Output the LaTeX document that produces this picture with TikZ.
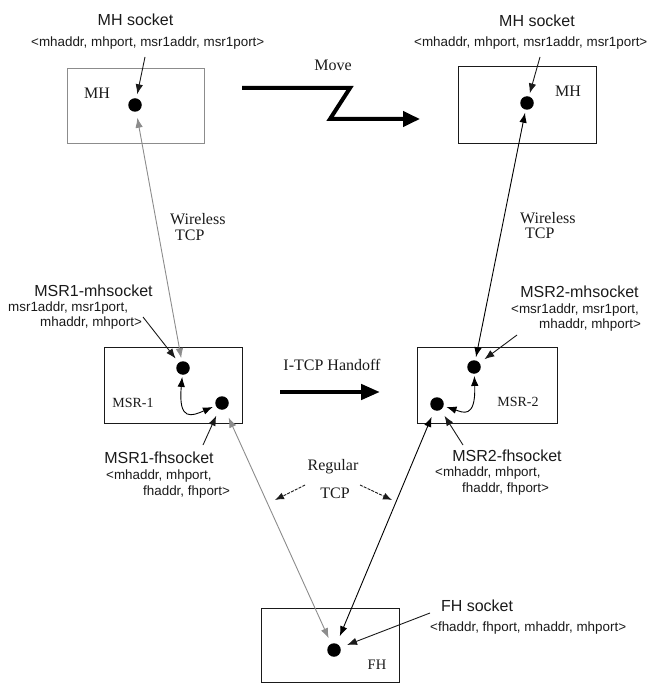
\documentclass[tikz,border=0pt]{standalone}
\usepackage{fontspec}
\setmainfont{Liberation Serif}
\setsansfont{Liberation Sans}
\usetikzlibrary{arrows.meta}
\definecolor{ink}{HTML}{1A1A1A}
\definecolor{lgray}{HTML}{8C8C8C}
\begin{document}
\begin{tikzpicture}[x=1pt,y=-1pt,
  box/.style={draw=ink, line width=0.9pt, inner sep=0pt},
  dot/.style={circle, fill=black, inner sep=0pt, minimum size=13.5pt},
  ttl/.style={font=\sffamily\fontsize{16}{17}\selectfont, text=ink, inner sep=0pt},
  sub/.style={font=\sffamily\fontsize{13.4}{15}\selectfont, text=ink, inner sep=0pt, anchor=west},
  lab/.style={font=\fontsize{16}{18}\selectfont, text=ink, inner sep=0pt},
  tip/.style={-{Latex[length=10pt,width=7.5pt]}, line width=0.9pt, draw=ink},
  link/.style={{Latex[length=10pt,width=7.5pt]}-{Latex[length=10pt,width=7.5pt]}, line width=0.9pt},
  regarrow/.style={-{Latex[length=9pt,width=7pt]}, line width=0.9pt, draw=ink, dash pattern=on 3pt off 1.2pt},
  bigarrow/.style={line width=4pt, draw=black, miter limit=10},
]
\useasboundingbox (0,0) rectangle (654,684);

% boxes
\node[box, draw=lgray, minimum width=137pt, minimum height=75pt] (bmh1) at (135.5,105.5) {};
\node[box, minimum width=138pt, minimum height=77pt] (bmh2) at (527,104.5) {};
\node[box, minimum width=138pt, minimum height=76pt] (bmsr1) at (173,385) {};
\node[box, minimum width=140pt, minimum height=76pt] (bmsr2) at (487,385) {};
\node[box, minimum width=138pt, minimum height=74pt] (bfh) at (330,645) {};

% box labels
\node[lab] (lmh1) at (97,93) {MH};
\node[lab] (lmh2) at (568,91) {MH};
\node[lab, font=\fontsize{14}{16}\selectfont] (lmsr1) at (133,403) {MSR-1};
\node[lab, font=\fontsize{14}{16}\selectfont] (lmsr2) at (518,402) {MSR-2};
\node[lab, font=\fontsize{14.5}{16}\selectfont] (lfh) at (377,665) {FH};

% sockets (dots)
\node[dot] (mh1) at (135,105) {};
\node[dot] (mh2) at (527,103) {};
\node[dot] (m1) at (183,368) {};
\node[dot] (f1) at (222,403) {};
\node[dot] (m2) at (474,367) {};
\node[dot] (f2) at (437,404) {};
\node[dot] (fh) at (334,650) {};

% socket titles and tuples
\node[ttl] (t1) at (135.5,20) {MH socket};
\node[sub] (s1) at (31,43) {<mhaddr, mhport, msr1addr, msr1port>};
\node[ttl] (t2) at (537,21) {MH socket};
\node[sub] (s2) at (414,43) {<mhaddr, mhport, msr1addr, msr1port>};

\node[ttl] (t3) at (93.5,291) {MSR1-mhsocket};
\node[sub] (s3a) at (8,308) {msr1addr, msr1port,};
\node[sub] (s3b) at (40,323) {mhaddr, mhport>};

\node[ttl] (t4) at (579.5,292) {MSR2-mhsocket};
\node[sub] (s4a) at (511,310) {<msr1addr, msr1port,};
\node[sub] (s4b) at (539,325) {mhaddr, mhport>};

\node[ttl] (t5) at (159,458) {MSR1-fhsocket};
\node[sub] (s5a) at (106,476) {<mhaddr, mhport,};
\node[sub] (s5b) at (143,492) {fhaddr, fhport>};

\node[ttl] (t6) at (507,456) {MSR2-fhsocket};
\node[sub] (s6a) at (435,473) {<mhaddr, mhport,};
\node[sub] (s6b) at (462,489) {fhaddr, fhport>};

\node[ttl] (t7) at (477,606) {FH socket};
\node[sub] (s7) at (430,628) {<fhaddr, fhport, mhaddr, mhport>};

% middle labels
\node[lab] (move) at (333,65) {Move};
\node[lab, anchor=west] (w1a) at (170,219) {Wireless};
\node[lab, anchor=west] (w1b) at (175,235) {TCP};
\node[lab, anchor=west] (w2a) at (520,218) {Wireless};
\node[lab, anchor=west] (w2b) at (525,233) {TCP};
\node[lab] (itcp) at (332,365) {I-TCP Handoff};
\node[lab] (reg1) at (333,467) {Regular};
\node[lab] (reg2) at (335,493) {TCP};

% label pointer arrows
\coordinate (p1) at (145,57);
\coordinate (p2) at (540,57);
\coordinate (p3) at (143,317);
\coordinate (p4) at (517,335);
\coordinate (p5) at (203,445);
\coordinate (p6) at (463,445);
\coordinate (p7) at (430,613);
\draw[tip, shorten >=4pt] (p1) -- (mh1);
\draw[tip, shorten >=3pt] (p2) -- (mh2);
\draw[tip, shorten >=5pt] (p3) -- (m1);
\draw[tip, shorten >=6pt] (p4) -- (m2);
\draw[tip, shorten >=7pt] (p5) -- (f1);
\draw[tip, shorten >=7pt] (p6) -- (f2);
\draw[tip, shorten >=7pt] (p7) -- (fh);

% connections
\draw[link, draw=lgray, shorten <=6pt, shorten >=3pt] (mh1) -- (m1);
\draw[link, draw=black, shorten <=3pt, shorten >=3pt] (m2) -- (mh2);
\draw[link, draw=lgray, shorten <=9pt, shorten >=6pt] (f1) -- (fh);
\draw[link, draw=black, shorten <=7pt, shorten >=8pt] (f2) -- (fh);

% internal handoff curves
\draw[link, draw=black, shorten <=2pt, shorten >=3pt] (m1) .. controls (178,422) and (192,416) .. (f1);
\draw[link, draw=black, shorten <=2pt, shorten >=3pt] (m2) .. controls (476,420) and (462,412) .. (f2);

% regular TCP pointers
\coordinate (r1s) at (305,485);
\coordinate (r1e) at (275,500);
\coordinate (r2s) at (360,485);
\coordinate (r2e) at (392,500);
\draw[regarrow] (r1s) -- (r1e);
\draw[regarrow] (r2s) -- (r2e);

% Move arrow
\coordinate (mv0) at (242,88);
\coordinate (mv1) at (350,88);
\coordinate (mv2) at (330,119);
\coordinate (mv3) at (420,119);
\draw[bigarrow, -{Triangle[length=17pt,width=15pt]}] (mv0) -- (mv1) -- (mv2) -- (mv3);

% I-TCP handoff arrow
\coordinate (h0) at (280,392);
\coordinate (h1) at (380,392);
\draw[bigarrow, line width=4.5pt, -{Triangle[length=19pt,width=15pt]}] (h0) -- (h1);
\end{tikzpicture}
\end{document}
